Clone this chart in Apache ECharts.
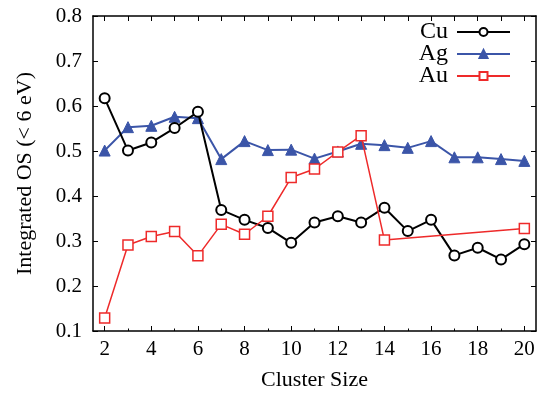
<!DOCTYPE html>
<html><head><meta charset="utf-8">
<script src="https://cdn.jsdelivr.net/npm/echarts@6/dist/echarts.min.js"></script>
<style>html,body{margin:0;padding:0;background:#fff}#c{width:541px;height:396px}</style>
</head><body><div id="c"></div>
<script>
const clusterSizes = [2,3,4,5,6,7,8,9,10,11,12,13,14,15,16,17,18,19,20];
const cuValues = [0.617,0.501,0.519,0.551,0.587,0.369,0.347,0.329,0.296,0.341,0.355,0.341,0.374,0.322,0.347,0.268,0.285,0.259,0.293];
const agValues = [0.501,0.553,0.556,0.576,0.573,0.482,0.522,0.502,0.503,0.483,0.499,0.516,0.513,0.507,0.522,0.486,0.486,0.482,0.478];
const auValues = [0.129,0.291,0.310,0.321,0.267,0.337,0.315,0.355,0.441,0.460,0.498,0.534,0.302,null,null,null,null,null,0.328];
const xTickLabels = [2,4,6,8,10,12,14,16,18,20];
const yTickLabels = [0.1,0.2,0.3,0.4,0.5,0.6,0.7,0.8];

const FONT = '"Liberation Serif","Times New Roman",serif';
function pairs(vals){ const out=[]; clusterSizes.forEach((x,i)=>{ if(vals[i]!==null) out.push([x,vals[i]]); }); return out; }
const minorX = clusterSizes.filter(v => xTickLabels.indexOf(v) < 0);

const chart = echarts.init(document.getElementById('c'), null, {renderer:'canvas'});
const axisLine = {show:true, lineStyle:{color:'#000', width:1.5}};
const tick = {show:true, inside:true, length:5, lineStyle:{color:'#000', width:1}};
chart.setOption({
  animation:false,
  backgroundColor:'#fff',
  textStyle:{fontFamily:FONT},
  grid:{left:93, right:5, top:16, bottom:64, containLabel:false},
  legend:{
    orient:'vertical', right:25, top:15, align:'right',
    itemWidth:53, itemHeight:10, itemGap:-2,
    textStyle:{fontFamily:FONT, fontSize:24, color:'#000', lineHeight:20, padding:[0,4,0,0]},
    data:['Cu','Ag','Au']
  },
  xAxis:[{
    type:'value', min:1.5, max:20.5, position:'bottom',
    axisLine, splitLine:{show:false},
    axisTick:Object.assign({customValues:xTickLabels}, tick),
    axisLabel:{customValues:xTickLabels, fontFamily:FONT, fontSize:21, color:'#000', margin:8},
    name:'Cluster Size', nameLocation:'middle', nameGap:38,
    nameTextStyle:{fontFamily:FONT, fontSize:22, color:'#000'}
  },{
    type:'value', min:1.5, max:20.5, position:'top',
    axisLine, splitLine:{show:false},
    axisTick:Object.assign({customValues:clusterSizes}, tick),
    axisLabel:{show:false}
  },{
    type:'value', min:1.5, max:20.5, position:'bottom',
    axisLine:{show:false}, splitLine:{show:false},
    axisTick:{show:true, inside:true, length:2.5, customValues:minorX, lineStyle:{color:'#000', width:1}},
    axisLabel:{show:false}
  }],
  yAxis:[{
    type:'value', min:0.1, max:0.8, interval:0.1, position:'left',
    axisLine, splitLine:{show:false}, axisTick:tick,
    axisLabel:{fontFamily:FONT, fontSize:21, color:'#000', margin:11, formatter:v=>v.toFixed(1)},
    name:'Integrated OS (< 6 eV)', nameLocation:'middle', nameGap:57,
    nameTextStyle:{fontFamily:FONT, fontSize:22, color:'#000'}
  },{
    type:'value', min:0.1, max:0.8, interval:0.1, position:'right',
    axisLine, splitLine:{show:false}, axisTick:tick, axisLabel:{show:false}
  }],
  series:[
    {name:'Cu', type:'line', data:pairs(cuValues), symbol:'circle', symbolSize:10,
     lineStyle:{color:'#000', width:2}, itemStyle:{color:'#fff', borderColor:'#000', borderWidth:2}, color:'#000', z:3},
    {name:'Ag', type:'line', data:pairs(agValues), symbol:'triangle', symbolSize:11,
     lineStyle:{color:'#3b55a8', width:2}, itemStyle:{color:'#3b55a8', borderColor:'#3b55a8', borderWidth:1}, color:'#3b55a8', z:2},
    {name:'Au', type:'line', data:pairs(auValues), symbol:'rect', symbolSize:10, connectNulls:true,
     lineStyle:{color:'#ee2a2a', width:1.5}, itemStyle:{color:'#fff', borderColor:'#ee2a2a', borderWidth:1.5}, color:'#ee2a2a', z:4}
  ]
});
</script></body></html>
